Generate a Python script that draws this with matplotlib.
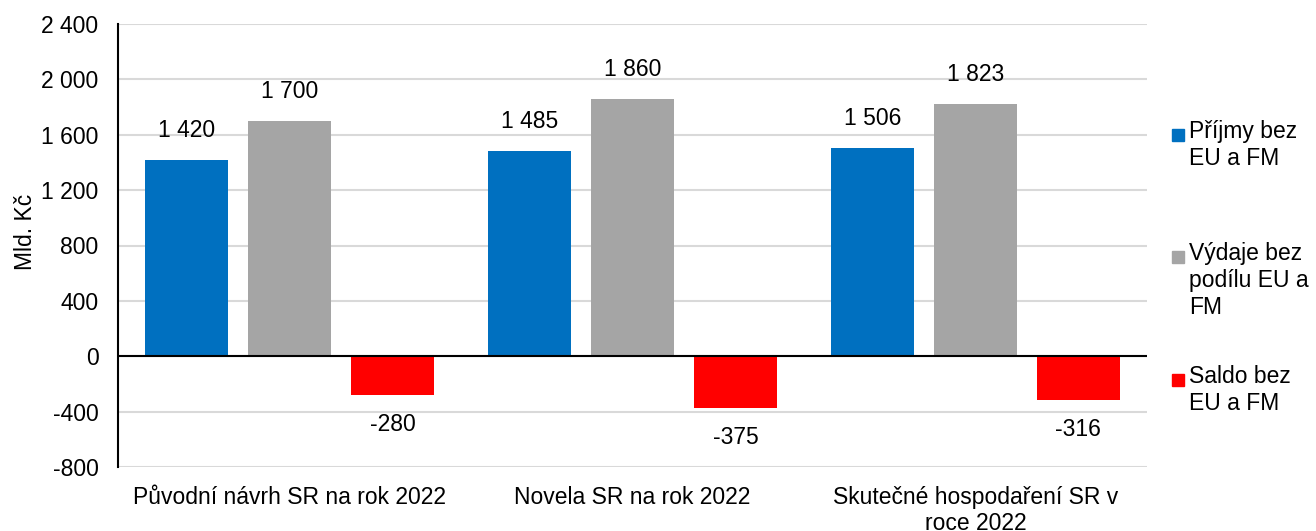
import matplotlib.pyplot as plt
import numpy as np
from matplotlib.patches import Rectangle

CATEGORIES = ["Původní návrh SR na rok 2022", "Novela SR na rok 2022",
              "Skutečné hospodaření SR v\nroce 2022"]
SERIES = ["Příjmy bez\nEU a FM", "Výdaje bez\npodílu EU a\nFM", "Saldo bez\nEU a FM"]
PRIJMY = [1420, 1485, 1506]
VYDAJE = [1700, 1860, 1823]
SALDO = [-280, -375, -316]
YTICKS = [-800, -400, 0, 400, 800, 1200, 1600, 2000, 2400]
COLORS = ["#0070C0", "#A5A5A5", "#FF0000"]


def fmt(v):
    return f"{v:,}".replace(",", " ")


plt.rcParams.update({"font.family": ["Liberation Sans", "DejaVu Sans"], "font.size": 16.5})

W, H = 1316, 531
fig = plt.figure(figsize=(W / 100, H / 100), dpi=100)
ax = fig.add_axes([118 / W, 64 / H, (1147 - 118) / W, (467 - 24) / H])

x = np.arange(len(CATEGORIES))
width = 0.24
step = 0.30
for i, (vals, col) in enumerate(zip([PRIJMY, VYDAJE, SALDO], COLORS)):
    bars = ax.bar(x + (i - 1) * step, vals, width, color=col, zorder=3)
    ax.bar_label(bars, labels=[fmt(v) for v in vals], padding=13, fontsize=16.5)

ax.set_xlim(-0.5, len(CATEGORIES) - 0.5)
ax.set_ylim(-800, 2400)
ax.set_yticks(YTICKS, [fmt(t) for t in YTICKS])
ax.set_xticks(x, CATEGORIES, linespacing=1.15)
ax.tick_params(axis="y", length=0, pad=14)
ax.tick_params(axis="x", length=0, pad=14)
ax.grid(axis="y", color="#D9D9D9", linewidth=1.5, zorder=0)
ax.axhline(0, color="black", linewidth=1.5, zorder=4)
for s in ["top", "right", "bottom"]:
    ax.spines[s].set_visible(False)
ax.spines["left"].set_linewidth(1.5)
ax.spines["left"].set_zorder(4)

fig.text(25 / W, 1 - 232 / H, "Mld. Kč", rotation=90, ha="center", va="center")

# legend drawn by hand so the marker sits on the first text line
tops = [120, 242, 365]
for lab, col, t in zip(SERIES, COLORS, tops):
    fig.text(1189 / W, 1 - t / H, lab, ha="left", va="top", linespacing=1.22)
    fig.patches.append(Rectangle((1172 / W, 1 - (t + 21) / H), 12 / W, 12 / H,
                                 transform=fig.transFigure, color=col))

fig.savefig("out.png", dpi=100)
